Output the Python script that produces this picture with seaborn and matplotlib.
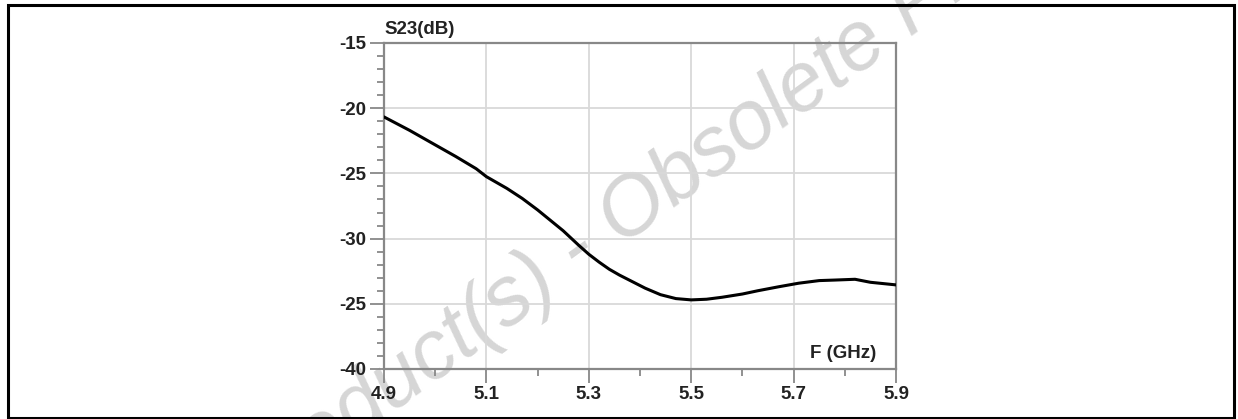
import numpy as np
import pandas as pd
import seaborn as sns
import matplotlib.pyplot as plt
import matplotlib.patches as patch
from matplotlib.ticker import MultipleLocator

# S23 vs frequency
freq = [4.90, 4.95, 4.99, 5.04, 5.08, 5.10, 5.14, 5.17, 5.20, 5.25, 5.28, 5.30, 5.32,
        5.34, 5.36, 5.38, 5.41, 5.44, 5.47, 5.50, 5.53, 5.56, 5.60, 5.63, 5.67,
        5.71, 5.75, 5.78, 5.82, 5.85, 5.90]
s23 = [-20.67, -21.7, -22.59, -23.7, -24.64, -25.25, -26.15, -26.92, -27.8, -29.4, -30.5,
       -31.2, -31.8, -32.35, -32.8, -33.2, -33.8, -34.3, -34.6, -34.7, -34.65, -34.5,
       -34.25, -34.0, -33.7, -33.42, -33.22, -33.18, -33.12, -33.35, -33.55]

xticks = [4.9, 5.1, 5.3, 5.5, 5.7, 5.9]
xtick_labels = ['4.9', '5.1', '5.3', '5.5', '5.7', '5.9']
yticks = [-15, -20, -25, -30, -35, -40]
ytick_labels = ['-15', '-20', '-25', '-30', '-25', '-40']  # as printed on the original

df = pd.DataFrame({'F': freq, 'S23': s23})

sns.set_style('white')
plt.rcParams['font.family'] = ['Liberation Sans', 'DejaVu Sans']
plt.rcParams['font.weight'] = 'bold'

fig = plt.figure(figsize=(12.38, 4.19), dpi=100)
ax = fig.add_axes([384/1238, 1 - 369/419, 512/1238, 326/419])
ax.set_facecolor('none')

sns.lineplot(data=df, x='F', y='S23', color='black', linewidth=2.2, ax=ax, zorder=3,
             solid_joinstyle='round')

ax.set(xlim=(4.9, 5.9), ylim=(-40, -15), xlabel='', ylabel='')
ax.set_xticks(xticks)
ax.set_xticklabels(xtick_labels, fontsize=13.5, fontweight='bold', color='#222222')
ax.set_yticks(yticks)
ax.set_yticklabels(ytick_labels, fontsize=13.5, fontweight='bold', color='#222222')
ax.xaxis.set_minor_locator(MultipleLocator(0.1))
ax.yaxis.set_minor_locator(MultipleLocator(1))
ax.tick_params(axis='both', which='major', length=10, width=1.3, color='#888888', pad=2.5)
ax.tick_params(axis='both', which='minor', length=5, width=1.3, color='#888888')
ax.tick_params(bottom=True, left=True, top=False, right=False, which='both')
ax.grid(True, which='major', color='#d9d9d9', linewidth=1.3)

for s in ax.spines.values():
    s.set_visible(True)
    s.set_color('#888888')
    s.set_linewidth(1.6)

ax.text(0.0, 1.015, 'S23(dB)', transform=ax.transAxes, ha='left', va='bottom',
        fontsize=13.5, fontweight='bold', color='#222222')
ax.text(0.961, 0.034, 'F (GHz)', transform=ax.transAxes, ha='right', va='baseline',
        fontsize=13.5, fontweight='bold', color='#222222')

# watermark of the source document
fig.text(723/1238, 1 - 146/419, 'Product(s) - Obsolete Product(s)', rotation=36,
         ha='center', va='center', rotation_mode='anchor', fontsize=60,
         style='italic', fontweight='normal', color='#d6d6d6', zorder=-1)

# frame around the whole figure
fig.patches.append(patch.Rectangle((7.5/1238, 1.5/419), 1226.5/1238, 412.5/419,
                                   transform=fig.transFigure, fill=False,
                                   edgecolor='black', linewidth=2.2))

fig.savefig('out.png', dpi=100)
